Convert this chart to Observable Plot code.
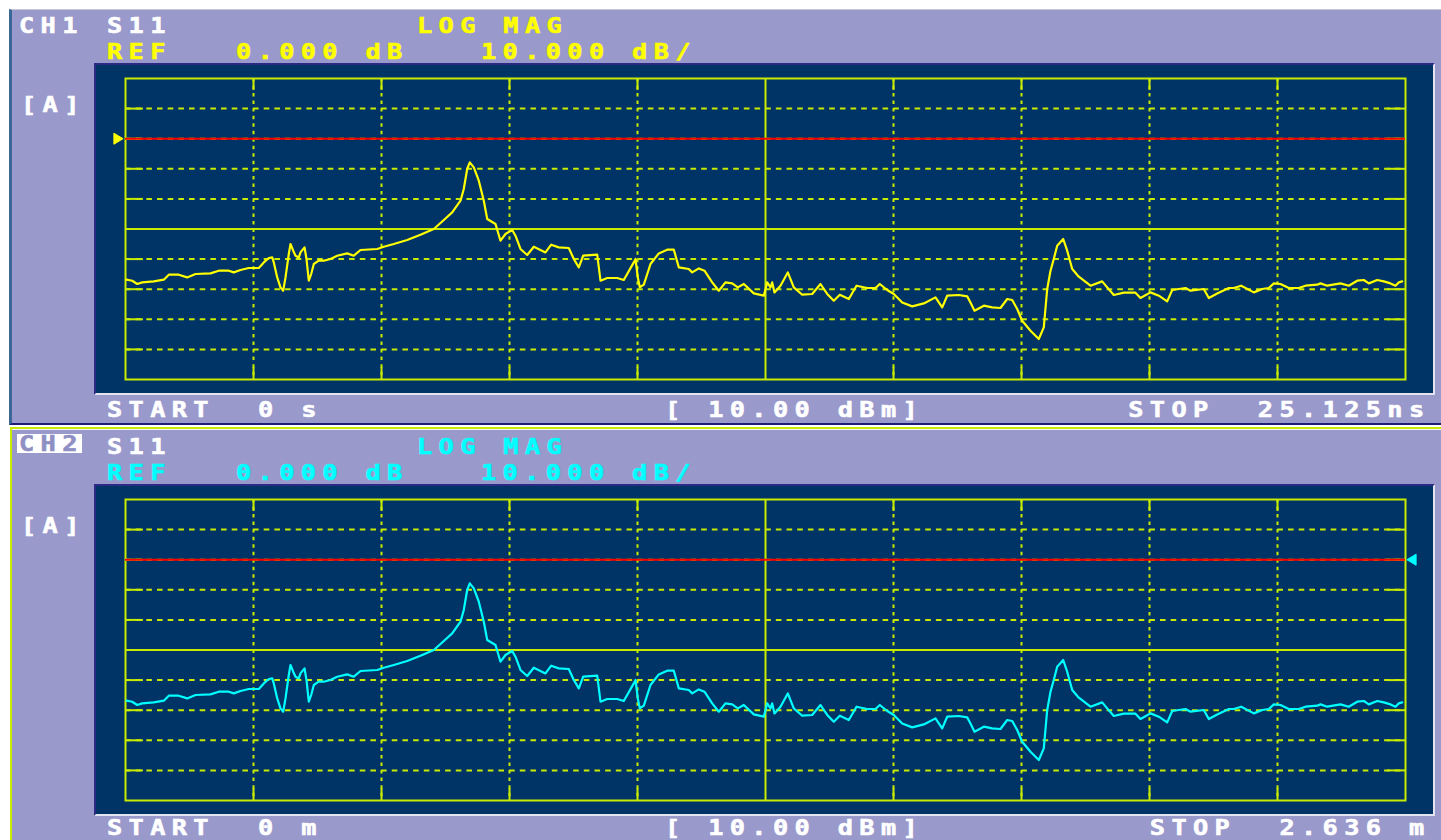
<!DOCTYPE html>
<html>
<head>
<meta charset="utf-8">
<script src="https://cdn.jsdelivr.net/npm/d3@7"></script>
<script src="https://cdn.jsdelivr.net/npm/@observablehq/plot@0.6"></script>
<style>
  body { margin: 0; background: #ffffff; }
  #screen { position: relative; width: 1441px; height: 840px; overflow: hidden; background: #ffffff; }
  .box { position: absolute; box-sizing: border-box; }
  .scope { position: absolute; box-sizing: content-box; width: 1337px; height: 328px;
           border-style: solid; border-width: 2px;
           border-color: #2b2b86 #e4e4f0 #e4e4f0 #2b2b86; }
  .scope svg { display: block; }
  #labels { position: absolute; left: 0; top: 0; pointer-events: none; }
</style>
</head>
<body>
<div id="screen"></div>
<script>
// S11 log-magnitude trace (time-domain sweep), time in ns
const timeNs = [
  0.020, 0.132, 0.230, 0.328, 0.555, 0.752, 0.850, 1.046, 1.211, 1.374,
  1.668, 1.831, 2.028, 2.126, 2.257, 2.420, 2.617, 2.715, 2.813, 2.880,
  2.911, 2.978, 3.042, 3.095, 3.141, 3.205, 3.239, 3.292, 3.337, 3.402,
  3.435, 3.514, 3.553, 3.598, 3.645, 3.696, 3.794, 3.892, 4.024, 4.155,
  4.352, 4.481, 4.613, 4.941, 5.070, 5.267, 5.529, 5.790, 6.052, 6.248,
  6.413, 6.576, 6.640, 6.707, 6.758, 6.837, 6.935, 7.033, 7.100, 7.263,
  7.361, 7.459, 7.590, 7.655, 7.753, 7.885, 8.015, 8.244, 8.356, 8.505,
  8.701, 8.800, 8.898, 8.984, 9.259, 9.324, 9.455, 9.652, 9.781, 9.977,
  10.011, 10.056, 10.095, 10.174, 10.305, 10.468, 10.633, 10.763, 10.861, 11.057,
  11.124, 11.253, 11.365, 11.516, 11.646, 11.777, 11.909, 12.019, 12.137, 12.333,
  12.529, 12.596, 12.661, 12.694, 12.739, 12.857, 13.000, 13.118, 13.283, 13.479,
  13.642, 13.774, 13.903, 14.021, 14.198, 14.349, 14.559, 14.722, 14.806, 14.951,
  15.081, 15.246, 15.442, 15.670, 15.899, 16.031, 16.129, 16.357, 16.522, 16.586,
  16.665, 16.848, 17.012, 17.175, 17.307, 17.405, 17.503, 17.601, 17.764, 17.927,
  18.025, 18.092, 18.157, 18.221, 18.288, 18.406, 18.484, 18.583, 18.712, 18.942,
  19.171, 19.270, 19.399, 19.596, 19.825, 19.923, 20.120, 20.283, 20.447, 20.546,
  20.807, 20.905, 21.166, 21.264, 21.429, 21.657, 21.755, 21.900, 22.148, 22.312,
  22.442, 22.540, 22.671, 22.834, 23.031, 23.162, 23.392, 23.457, 23.588, 23.849,
  24.012, 24.177, 24.307, 24.405, 24.570, 24.699, 24.831, 24.929, 24.994, 25.060
];
// |S11| in dB at each time above
const s11Db = [
  -46.84, -47.18, -48.27, -47.74, -47.41, -46.84, -45.18, -45.18, -46.08, -44.95,
  -44.75, -43.85, -43.85, -44.42, -43.62, -42.96, -42.96, -41.10, -39.63, -39.44,
  -41.10, -46.08, -49.40, -50.50, -46.08, -38.31, -34.98, -37.21, -38.87, -39.44,
  -37.77, -36.11, -39.97, -47.18, -44.95, -41.63, -40.53, -40.53, -39.97, -38.87,
  -38.11, -38.87, -36.98, -36.64, -35.88, -34.98, -33.65, -31.89, -30.00, -27.01,
  -24.49, -20.60, -16.71, -10.07, -7.87, -9.53, -13.95, -20.60, -26.68, -28.34,
  -33.89, -31.66, -30.33, -32.23, -36.64, -38.64, -35.88, -37.77, -35.22, -36.11,
  -36.31, -39.97, -42.76, -38.87, -38.54, -47.18, -46.28, -46.28, -46.94, -41.10,
  -39.97, -46.08, -49.40, -48.50, -41.63, -38.11, -36.88, -36.88, -42.76, -43.29,
  -44.42, -43.09, -43.85, -47.74, -50.50, -47.74, -48.07, -49.40, -48.27, -51.40,
  -52.16, -47.74, -49.40, -47.74, -51.06, -48.84, -44.42, -49.40, -51.83, -51.59,
  -48.27, -51.59, -53.82, -51.83, -53.26, -48.84, -49.60, -49.60, -48.27, -50.27,
  -51.59, -54.39, -55.71, -54.72, -52.72, -56.05, -52.16, -51.93, -52.39, -54.39,
  -57.14, -55.48, -56.05, -56.25, -53.26, -53.59, -56.58, -60.47, -63.79, -66.54,
  -62.69, -49.93, -43.85, -39.97, -35.55, -33.32, -37.21, -43.29, -45.85, -48.84,
  -47.41, -49.40, -51.93, -51.16, -51.16, -52.92, -51.06, -52.16, -54.05, -50.27,
  -49.60, -50.50, -49.93, -52.92, -51.40, -49.60, -49.60, -48.84, -51.06, -49.93,
  -49.60, -48.07, -48.27, -49.60, -49.60, -48.84, -48.50, -48.07, -48.84, -48.07,
  -48.84, -47.18, -46.94, -48.07, -46.94, -47.41, -48.07, -48.84, -47.74, -47.41
];

// Channel settings
const channelNames = ["CH1", "CH2"];
const parameter = "S11";
const format = "LOG MAG";
const startLabels = ["0 s", "0 m"];
const stopLabels = ["25.125ns", "2.636 m"];
const stopValues = [25.125, 2.636];   // CH1 in ns, CH2 in metres
const sourcePower = 10.00;            // dBm
const refLevelDb = 0;
const dbPerDiv = 10;
const refPositionDiv = 8;             // reference line sits 8 divisions above the bottom
const divisions = 10;

// Colours
const LAVENDER = "#9999cc";
const NAVY = "#003366";
const GRATICULE = "#c8ec00";
const traceColors = ["#ffff00", "#00ffff"];

const screen = d3.select("#screen");

// Panel frames: CH1 inactive (dark edge), CH2 active (yellow-green edge)
const PANEL_DY = 421;
screen.append("div").attr("class", "box")
  .style("left", "9px").style("top", "9px").style("width", "1432px").style("height", "416px")
  .style("background", LAVENDER)
  .style("border-left", "3px solid #3a6796").style("border-top", "1px solid #c8c8d4")
  .style("border-bottom", "2px solid #1e1e74");
screen.append("div").attr("class", "box")
  .style("left", "10px").style("top", "427px").style("width", "1431px").style("height", "413px")
  .style("background", LAVENDER)
  .style("border-left", "2.5px solid " + GRATICULE).style("border-top", "2.5px solid " + GRATICULE)
  .style("box-shadow", "inset 0 1px 0 #f4f4f8");

// Symbol: triangle pointing along +x (dir = 1) or -x (dir = -1)
function pointer(dir) {
  return {
    draw(context, size) {
      const r = Math.sqrt(size / Math.PI);
      context.moveTo(dir * r, 0);
      context.lineTo(-dir * r, -1.2 * r);
      context.lineTo(-dir * r, 1.2 * r);
      context.closePath();
    }
  };
}

function tracePlot(ch) {
  const stop = stopValues[ch];
  const k = stop / stopValues[0];
  const color = traceColors[ch];
  const points = timeNs.map((t, i) => ({x: t * k, y: s11Db[i]}));

  const yBot = refLevelDb - refPositionDiv * dbPerDiv;
  const yTop = yBot + divisions * dbPerDiv;
  const xs = d3.range(divisions + 1).map(i => i * stop / divisions);
  const ys = d3.range(divisions + 1).map(i => yBot + i * dbPerDiv);
  const xMid = xs[divisions / 2], yMid = ys[divisions / 2];
  const xInner = xs.slice(1, -1).filter(v => v !== xMid);
  const yInner = ys.slice(1, -1).filter(v => v !== yMid);
  const tickY = 0.4 * dbPerDiv;
  const tickX = 0.14 * stop / divisions;
  const g = {stroke: GRATICULE, strokeWidth: 2};

  return Plot.plot({
    width: 1337, height: 328,
    marginLeft: 29, marginRight: 28, marginTop: 13, marginBottom: 14,
    x: {domain: [0, stop], axis: null},
    y: {domain: [yBot, yTop], axis: null},
    style: {background: NAVY, overflow: "visible"},
    marks: [
      Plot.ruleY(yInner, {...g, strokeDasharray: "5.6,5.07"}),
      Plot.ruleX(xInner, {...g, strokeDasharray: "3.5,4.03"}),
      Plot.ruleX(xInner, {...g, y1: yTop, y2: yTop - tickY}),
      Plot.ruleX(xInner, {...g, y1: yBot, y2: yBot + tickY}),
      Plot.ruleY(yInner, {...g, x1: 0, x2: tickX}),
      Plot.ruleY(yInner, {...g, x1: stop - tickX, x2: stop}),
      Plot.ruleX([xMid], g),
      Plot.ruleY([yMid], g),
      Plot.frame(g),
      Plot.ruleY([refLevelDb], {stroke: "#ff0000", strokeWidth: 2}),
      Plot.line(points, {x: "x", y: "y", stroke: color, strokeWidth: 2.2}),
      Plot.dot([refLevelDb], {
        x: ch === 0 ? 0 : stop, y: d => d,
        dx: ch === 0 ? -7 : 6,
        symbol: pointer(ch === 0 ? 1 : -1), r: 4.6,
        fill: color, stroke: color, strokeWidth: 1
      })
    ]
  });
}

[0, 1].forEach(ch => {
  const holder = screen.append("div").attr("class", "scope")
    .style("left", "94px").style("top", (63 + ch * PANEL_DY) + "px");
  holder.node().appendChild(tracePlot(ch));
});

// Annotation text: wide bold monospace, fixed 21.6 px character pitch
const PITCH = 21.6;
const FONT_SIZE = 22;
const STRETCH = 1.15;
const labels = d3.select("#screen").append("svg").attr("id", "labels")
  .attr("width", 1441).attr("height", 840);

function label(text, x, y, fill) {
  labels.append("text")
    .attr("transform", `translate(${x},${y}) scale(${STRETCH},1)`)
    .attr("fill", fill)
    .attr("stroke", fill).attr("stroke-width", 0.6)
    .style("font-family", "'DejaVu Sans Mono', monospace").style("font-weight", "bold")
    .style("font-size", FONT_SIZE + "px")
    .style("letter-spacing", (PITCH / STRETCH - 0.602 * FONT_SIZE) + "px")
    .text(text);
}

[0, 1].forEach(ch => {
  const dy = ch * PANEL_DY;
  const color = traceColors[ch];
  const white = "#ffffff";
  const bottomLine = ch === 0 ? 417 : 414;
  if (ch === 1) {
    labels.append("rect").attr("x", 17).attr("y", 13 + dy).attr("width", 65).attr("height", 19)
      .attr("fill", "#ffffff");
    label(channelNames[ch], 19, 30 + dy, "#8f8fc4");
  } else {
    label(channelNames[ch], 19, 33 + dy, white);
  }
  label(parameter, 107, 33 + dy, white);
  label(format, 417, 33 + dy, color);
  label("REF", 107, 59 + dy, color);
  label(`${refLevelDb.toFixed(3)} dB`, 236, 59 + dy, color);
  label(`${dbPerDiv.toFixed(3)} dB/`, 481, 59 + dy, color);
  label("[A]", 21, 112 + dy, white);
  label("START", 107, bottomLine + dy, white);
  label(startLabels[ch], 258, bottomLine + dy, white);
  label(`[ ${sourcePower.toFixed(2)} dBm]`, 665, bottomLine + dy, white);
  const stopX = 1424 - 15 - (stopLabels[ch].length - 1) * PITCH;
  label("STOP", stopX - 6 * PITCH, bottomLine + dy, white);
  label(stopLabels[ch], stopX, bottomLine + dy, white);
});
</script>
</body>
</html>
